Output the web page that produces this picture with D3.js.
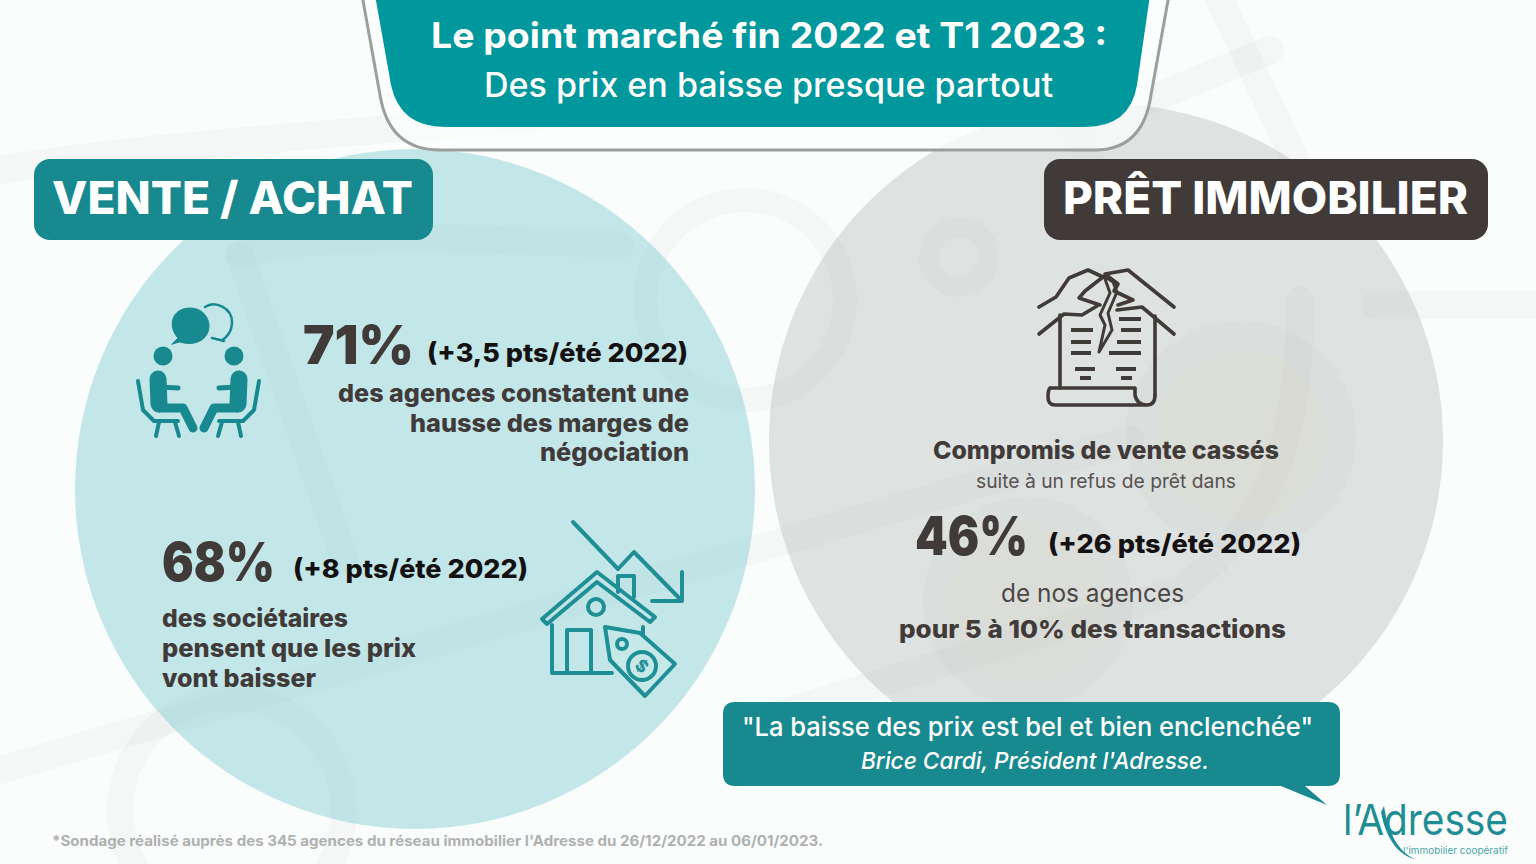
<!DOCTYPE html>
<meta charset="utf-8">
<style>
html, body { margin: 0; padding: 0; background: #fbfdfc; overflow: hidden; }
text { font-family: Inter, Lato, sans-serif; }
.icon { fill: none; stroke-linecap: round; stroke-linejoin: round; }
</style>
<svg id="chart" width="1536" height="864"></svg>
<script src="https://cdn.jsdelivr.net/npm/d3@7"></script>
<script>

const teal = "#17898f", panelTeal = "#00979d", ink = "#403a39"

const titleLines = ["Le point marché fin 2022 et T1 2023 :", "Des prix en baisse presque partout"]
const sectionNames = ["VENTE / ACHAT", "PRÊT IMMOBILIER"]
const shares = ["71%", "68%", "46%"]
const shifts = ["(+3,5 pts/été 2022)", "(+8 pts/été 2022)", "(+26 pts/été 2022)"]
const margesLines = ["des agences constatent une", "hausse des marges de", "négociation"]
const societairesLines = ["des sociétaires", "pensent que les prix", "vont baisser"]
const pretLines = ["Compromis de vente cassés", "suite à un refus de prêt dans", "de nos agences", "pour 5 à 10% des transactions"]
const quoteLines = ["\"La baisse des prix est bel et bien enclenchée\"", "Brice Cardi, Président l'Adresse."]
const footnote = "*Sondage réalisé auprès des 345 agences du réseau immobilier l'Adresse du 26/12/2022 au 06/01/2023."
const logoName = "l’Adresse"
const logoTagline = "l'immobilier coopératif"

const svg = d3.select("#chart")

//text helper, w forces the width seen on the picture
function label(str, x, y, size, w, o = {}) {
  const t = svg.append("text")
    .attr("x", x)
    .attr("y", y)
    .attr("font-size", size)
    .attr("font-weight", o.weight || 800)
    .attr("font-family", o.font || null)
    .attr("font-style", o.style || null)
    .attr("text-anchor", o.anchor || "start")
    .attr("fill", o.fill || ink)
    .text(str)
  if (w) t.attr("textLength", w).attr("lengthAdjust", "spacingAndGlyphs")
  return t
}

//faint cart and coins behind everything
const mark = svg.append("g")
  .attr("fill", "none")
  .attr("stroke", "#6f7775")
  .attr("stroke-opacity", 0.045)
  .attr("stroke-linecap", "round")

const rings = [[232, 810, 112, 26], [745, 300, 100, 24], [959, 257, 30, 20], [1241, 436, 100, 30], [1028, 602, 92, 26]]
mark.selectAll("circle").data(rings).join("circle")
  .attr("cx", d => d[0]).attr("cy", d => d[1]).attr("r", d => d[2])
  .attr("stroke-width", d => d[3])

svg.append("circle").attr("cx", 1241).attr("cy", 436).attr("r", 85).attr("fill", "#e8e2c4").attr("fill-opacity", 0.25)
svg.append("circle").attr("cx", 1028).attr("cy", 602).attr("r", 79).attr("fill", "#e8e2c4").attr("fill-opacity", 0.2)

const bars = [
  "M1375,305H1560",
  "M1215,-10L1300,170",
  "M1150,100L1270,50",
  "M1000,-20L1110,200",
  "M240,255L345,560",
  "M240,255C300,235 420,235 620,245",
  "M0,770L1130,440",
  "M0,170C300,120 700,130 980,40",
  "M1300,300C1300,420 1280,520 1180,590L760,720"
]
mark.selectAll("path").data(bars).join("path")
  .attr("d", d => d)
  .attr("stroke-width", 28)

//two main discs
svg.append("circle").attr("cx", 415).attr("cy", 489).attr("r", 340).attr("fill", "#8fd3d6").attr("fill-opacity", 0.52)
svg.append("circle").attr("cx", 1106).attr("cy", 441).attr("r", 337).attr("fill", "#a7acaa").attr("fill-opacity", 0.34)

//title panel
svg.append("path")
  .attr("d", "M362,-5L380,95Q389,150 440,150H1095Q1143,150 1151,95L1169,-5")
  .attr("fill", "#fbfdfc").attr("fill-opacity", 0.75)
  .attr("stroke", "#9c9f9e").attr("stroke-width", 3)
svg.append("path")
  .attr("d", "M375,-5L391,85Q400,127 445,127H1085Q1130,127 1137,85L1150,-5Z")
  .attr("fill", panelTeal)
label(titleLines[0], 431, 48, 35, 676, {font: "Lato", weight: 700, fill: "#fff"})
label(titleLines[1], 484, 97, 34, 569, {font: "Lato", weight: 500, fill: "#fff"})

//section tags
svg.append("rect").attr("x", 34).attr("y", 159).attr("width", 399).attr("height", 81).attr("rx", 16).attr("fill", teal)
svg.append("rect").attr("x", 1044).attr("y", 159).attr("width", 444).attr("height", 81).attr("rx", 16).attr("fill", ink)
label(sectionNames[0], 52, 214, 45, 361, {fill: "#fff"})
label(sectionNames[1], 1063, 214, 45, 405, {fill: "#fff"})

//left block
label(shares[0], 303, 364, 54, 111, {weight: 900})
label(shifts[0], 427, 362, 26, 261, {fill: "#141112", weight: 800})
margesLines.forEach((s, i) => {
  label(s, 689, [402, 432, 461][i], 25, [351, 279, 149][i], {anchor: "end"})
})
label(shares[1], 162, 581, 54, 113, {weight: 900})
label(shifts[1], 293, 578, 26, 235, {fill: "#141112", weight: 800})
societairesLines.forEach((s, i) => {
  label(s, 162, [627, 657, 687][i], 25, [186, 254, 154][i])
})

//right block
label(pretLines[0], 933, 459, 25, 346)
label(pretLines[1], 976, 488, 19, 260, {weight: 400, fill: "#565251"})
label(shares[2], 915, 555, 54, 113, {weight: 900})
label(shifts[2], 1048, 553, 26, 253, {fill: "#141112", weight: 800})
label(pretLines[2], 1001, 602, 25, 183, {weight: 400, fill: "#4c4746"})
label(pretLines[3], 899, 638, 25, 387)

//quote bubble
svg.append("path")
  .attr("d", "M735,702H1328Q1340,702 1340,714V774Q1340,786 1328,786H1305L1327,805L1281,786H735Q723,786 723,774V714Q723,702 735,702Z")
  .attr("fill", teal)
label(quoteLines[0], 742, 736, 26, 571, {font: "Lato", weight: 500, fill: "#fff"})
label(quoteLines[1], 861, 769, 23, 348, {font: "Lato", weight: 500, style: "italic", fill: "#fff"})

label(footnote, 52, 846, 14.5, 771, {fill: "#aeb1b0", weight: 700, font: "Open Sans"})

//logo
label(logoName, 1343, 835, 43, 165, {font: "Lato", weight: 400, fill: "#1f8e94"})
label(logoTagline, 1403, 854, 9.5, 105, {font: "Lato", weight: 400, fill: "#4aa5aa"})
svg.append("path")
  .attr("d", "M1384,806C1388,832 1398,852 1415,859C1398,856 1385,836 1381,812Z")
  .attr("fill", "#1f8e94")

//icon: two people talking
const talk = svg.append("g").attr("class", "icon").attr("stroke", teal)
talk.append("path")
  .attr("d", "M172,344L178,338C167,326 172,308 190,308C203,308 209,318 209,326C209,339 196,347 180,342Z")
  .attr("fill", teal).attr("stroke-width", 1)
talk.append("path")
  .attr("d", "M205,307C215,300 232,308 232,322C232,332 226,338 222,340L224,341L212,338")
  .attr("stroke-width", 2.5)
function person(g) {
  g.append("circle").attr("cx", 163).attr("cy", 356).attr("r", 9.5).attr("fill", teal).attr("stroke", "none")
  g.append("path").attr("d", "M158,379L159,404").attr("stroke-width", 17)
  g.append("path").attr("d", "M160,387L178,388").attr("stroke-width", 5)
  g.append("path").attr("d", "M160,408H183L193,428").attr("stroke-width", 9)
  g.append("path").attr("d", "M138,381L143,410L154,421H178").attr("stroke-width", 4)
  g.append("path").attr("d", "M159,422L156,436M175,422L179,436").attr("stroke-width", 4)
}
talk.append("g").call(person)
talk.append("g").attr("transform", "translate(397,0) scale(-1,1)").call(person)

//icon: house with price tag
const house = svg.append("g").attr("class", "icon").attr("stroke", "#1f8f96").attr("stroke-width", 4)
house.append("path").attr("d", "M573,522L618,569L634,552L682,601M682,572V601H652")
house.append("path").attr("d", "M618,592V576H634V597")
house.append("path").attr("d", "M542,619L597,572L655,617L650,622L597,582L547,624Z")
house.append("path").attr("d", "M552,625V673H612M643,627V642")
house.append("path").attr("d", "M567,673V630H591V673")
house.append("circle").attr("cx", 596).attr("cy", 607).attr("r", 8)
house.append("path").attr("d", "M605,627L640,633L675,664L645,696L610,660Z").attr("fill", "#c6e8e9")
house.append("circle").attr("cx", 622).attr("cy", 644).attr("r", 5)
house.append("circle").attr("cx", 642).attr("cy", 666).attr("r", 14)
label("$", 642, 672, 17, null, {anchor: "middle", fill: "#1f8f96", weight: 800})
  .attr("transform", "rotate(40,642,666)")

//icon: broken deal under a roof
const deal = svg.append("g").attr("class", "icon").attr("stroke", ink).attr("stroke-width", 3.6)
deal.append("path").attr("d", "M1039,307L1056,297L1069,278L1088,270L1103,277L1085,291L1079,298L1100,305")
deal.append("path").attr("d", "M1174,307L1128,270L1105,274L1118,284L1114,291L1133,300L1118,305")
deal.append("path").attr("d", "M1039,334L1064,314L1082,315L1097,306")
deal.append("path").attr("d", "M1174,334L1142,307L1117,310")
deal.append("path").attr("d", "M1104,276L1110,293L1100,315L1105,325L1099,352L1112,330L1108,313L1117,292L1113,282Z").attr("stroke-width", 3)
deal.append("path").attr("d", "M1060,315V388M1155,316V395")
deal.append("path").attr("d", "M1050,388H1135V395Q1137,405 1147,405H1055Q1048,405 1048,397Q1048,390 1050,388M1147,405Q1155,405 1155,395")
const dealRows = ["M1071,330H1093M1071,342H1091M1071,353H1091M1075,369H1095M1080,378H1091",
  "M1119,319H1141M1121,330H1141M1117,342H1141M1109,353H1141M1116,369H1136M1121,378H1132"]
deal.selectAll(".row").data(dealRows).join("path").attr("class", "row").attr("d", d => d)
  .attr("stroke-width", 4).attr("stroke-linecap", "butt")

</script>
